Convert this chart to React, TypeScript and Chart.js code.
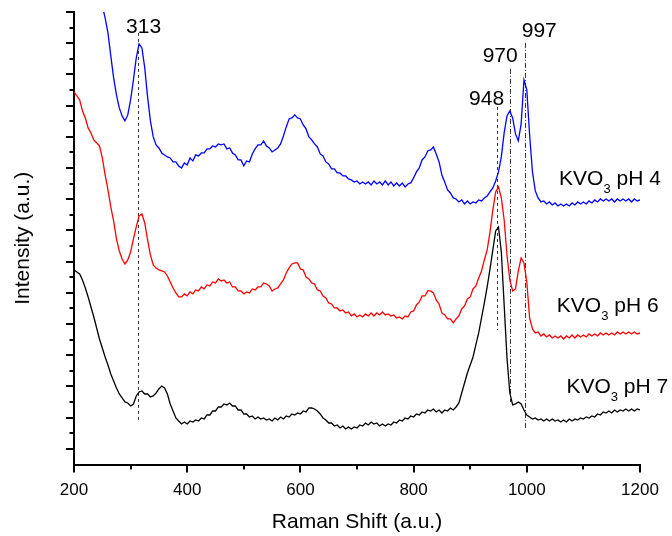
import React, { useEffect, useRef } from 'react';
import { Chart, registerables } from 'chart.js';

Chart.register(...registerables);

const FONT = '"Liberation Sans", Arial, Helvetica, sans-serif';

// Raman shift sampling (a.u.)
const ramanShift = [
  200, 205, 210, 215, 220, 225, 230, 235, 240, 245,
  250, 255, 260, 265, 270, 275, 280, 285, 290, 295,
  300, 305, 310, 315, 320, 325, 330, 335, 340, 345,
  350, 355, 360, 365, 370, 375, 380, 385, 390, 395,
  400, 405, 410, 415, 420, 425, 430, 435, 440, 445,
  450, 455, 460, 465, 470, 475, 480, 485, 490, 495,
  500, 505, 510, 515, 520, 525, 530, 535, 540, 545,
  550, 555, 560, 565, 570, 575, 580, 585, 590, 595,
  600, 605, 610, 615, 620, 625, 630, 635, 640, 645,
  650, 655, 660, 665, 670, 675, 680, 685, 690, 695,
  700, 705, 710, 715, 720, 725, 730, 735, 740, 745,
  750, 755, 760, 765, 770, 775, 780, 785, 790, 795,
  800, 805, 810, 815, 820, 825, 830, 835, 840, 845,
  850, 855, 860, 865, 870, 875, 880, 885, 890, 895,
  900, 905, 910, 915, 920, 925, 930, 935, 940, 945,
  950, 955, 960, 965, 970, 975, 980, 985, 990, 995,
  1000, 1005, 1010, 1015, 1020, 1025, 1030, 1035, 1040, 1045,
  1050, 1055, 1060, 1065, 1070, 1075, 1080, 1085, 1090, 1095,
  1100, 1105, 1110, 1115, 1120, 1125, 1130, 1135, 1140, 1145,
  1150, 1155, 1160, 1165, 1170, 1175, 1180, 1185, 1190, 1195,
  1200,
];

// KVO3 pH 4 (blue)
const intensityPH4 = [
  6045, 5845, 5695, 5545, 5395, 5245, 5095, 4945, 4805, 4675,
  4585, 4465, 4315, 4085, 3865, 3695, 3565, 3485, 3435, 3495,
  3645, 3845, 4065, 4205, 4165, 3965, 3675, 3435, 3275, 3195,
  3165, 3115, 3095, 3075, 3065, 3025, 3025, 2985, 2965, 3015,
  2995, 3065, 3035, 3095, 3085, 3115, 3115, 3155, 3155, 3185,
  3175, 3205, 3195, 3205, 3155, 3165, 3115, 3095, 3045, 3045,
  2985, 3035, 3025, 3105, 3155, 3195, 3195, 3235, 3185, 3165,
  3125, 3145, 3165, 3205, 3285, 3375, 3455, 3465, 3495, 3465,
  3455, 3395, 3355, 3275, 3245, 3205, 3175, 3105, 3085, 3025,
  3005, 2955, 2955, 2915, 2915, 2885, 2885, 2855, 2845, 2825,
  2835, 2805, 2825, 2805, 2825, 2795, 2835, 2805, 2825, 2795,
  2835, 2795, 2825, 2785, 2815, 2785, 2815, 2775, 2805, 2815,
  2865, 2925, 2965, 3045, 3075, 3135, 3145, 3175, 3105, 3025,
  2895, 2825, 2745, 2715, 2665, 2655, 2625, 2645, 2605, 2635,
  2605, 2625, 2615, 2645, 2635, 2665, 2685, 2725, 2765, 2835,
  2925, 3075, 3315, 3485, 3535, 3465, 3305, 3235, 3405, 3845,
  3745, 3295, 2925, 2735, 2665, 2625, 2635, 2605, 2625, 2595,
  2615, 2585, 2605, 2585, 2605, 2585, 2615, 2595, 2625, 2605,
  2625, 2605, 2635, 2615, 2645, 2625, 2655, 2635, 2655, 2635,
  2655, 2625, 2655, 2635, 2655, 2635, 2655, 2625, 2655, 2635,
  2645,
];

// KVO3 pH 6 (red)
const intensityPH6 = [
  3725, 3685, 3645, 3535, 3465, 3365, 3315, 3245, 3215, 3185,
  3065, 2895, 2745, 2575, 2435, 2255, 2135, 2055, 2005, 2045,
  2125, 2255, 2375, 2485, 2505, 2415, 2245, 2095, 1995, 1965,
  1945, 1935, 1925, 1885, 1825, 1765, 1715, 1675, 1675, 1705,
  1685, 1725, 1705, 1745, 1735, 1775, 1755, 1795, 1785, 1825,
  1815, 1855, 1835, 1845, 1815, 1825, 1775, 1775, 1735, 1735,
  1705, 1725, 1715, 1755, 1745, 1775, 1775, 1815, 1805, 1785,
  1735, 1755, 1765, 1805, 1845, 1915, 1965, 2005, 2015, 2015,
  1955, 1945, 1875, 1855, 1815, 1805, 1745, 1735, 1685, 1665,
  1615, 1605, 1565, 1565, 1535, 1545, 1515, 1525, 1485, 1505,
  1475, 1495, 1475, 1505, 1485, 1515, 1485, 1515, 1495, 1525,
  1495, 1505, 1485, 1495, 1465, 1475, 1455, 1485, 1475, 1525,
  1535, 1595, 1625, 1685, 1685, 1735, 1735, 1715, 1645, 1605,
  1515, 1495, 1455, 1455, 1415, 1455, 1485, 1555, 1585, 1655,
  1675, 1755, 1785, 1865, 1935, 2045, 2145, 2325, 2545, 2725,
  2775, 2665, 2445, 2095, 1845, 1735, 1755, 1935, 2065, 2015,
  1825, 1465, 1355, 1315, 1325, 1285, 1305, 1275, 1295, 1265,
  1285, 1265, 1285, 1255, 1285, 1265, 1295, 1265, 1295, 1275,
  1295, 1275, 1305, 1285, 1305, 1285, 1315, 1295, 1315, 1295,
  1315, 1295, 1325, 1305, 1325, 1305, 1325, 1305, 1325, 1305,
  1315,
];

// KVO3 pH 7 (black)
const intensityPH7 = [
  1945, 1925, 1905, 1845, 1765, 1675, 1575, 1475, 1365, 1255,
  1165, 1075, 995, 905, 835, 765, 705, 665, 625, 615,
  585, 605, 685, 725, 735, 705, 705, 675, 685, 715,
  755, 785, 765, 705, 605, 535, 465, 435, 405, 425,
  405, 435, 425, 445, 435, 465, 455, 495, 495, 535,
  535, 575, 575, 605, 595, 615, 585, 585, 545, 545,
  505, 505, 475, 485, 455, 475, 455, 465, 445, 455,
  435, 465, 445, 475, 455, 485, 475, 505, 495, 515,
  505, 535, 525, 565, 565, 555, 535, 505, 465, 445,
  415, 415, 385, 395, 365, 385, 355, 375, 355, 375,
  365, 395, 385, 415, 395, 425, 405, 415, 385, 405,
  385, 405, 395, 425, 415, 445, 435, 465, 455, 485,
  475, 505, 495, 525, 515, 545, 535, 555, 525, 545,
  515, 545, 535, 565, 545, 575, 615, 715, 815, 915,
  995, 1075, 1195, 1315, 1465, 1615, 1775, 1955, 2145, 2335,
  2375, 2125, 1595, 1065, 715, 595, 605, 625, 605, 545,
  495, 475, 455, 465, 445, 455, 435, 455, 435, 455,
  435, 445, 425, 445, 425, 455, 435, 455, 445, 465,
  455, 475, 465, 485, 475, 505, 495, 525, 515, 535,
  515, 545, 525, 545, 535, 555, 535, 555, 535, 555,
  545,
];

const seriesColors = ['#0000ff', '#ff0000', '#000000'];
const seriesPH = ['pH 4', 'pH 6', 'pH 7'];
const seriesLabelX = [1057, 1053, 1070];
const seriesLabelY = [2795, 1528, 712];

// Peak markers
const peakShift = [313, 948, 970, 997];
const peakLineTop = [4315, 3575, 3955, 4215];
const peakLineBottom = [425, 1345, 625, 365];
const peakDash = [[3, 3], [3, 3], [5, 2, 1, 2], [5, 2, 1, 2]];
const peakLabelX = [323, 929, 953, 1022];
const peakLabelY = [4312, 3595, 4028, 4278];

// Axes
const xMin = 200;
const xMax = 1200;
const xLabelStep = 200;
const xTickValues = [200, 300, 400, 500, 600, 700, 800, 900, 1000, 1100, 1200];
const yMax = 4524;
const yTickStep = 156;
const yTickCount = 29;

const decorPlugin = {
  id: 'decor',
  beforeDatasetsDraw(chart: any) {
    const { ctx, scales } = chart;
    const xs = scales.x;
    const ys = scales.y;
    ctx.save();
    ctx.strokeStyle = '#333333';
    ctx.lineWidth = 1;
    peakShift.forEach((v, i) => {
      const px = Math.round(xs.getPixelForValue(v)) + 0.5;
      ctx.setLineDash(peakDash[i]);
      ctx.beginPath();
      ctx.moveTo(px, ys.getPixelForValue(peakLineTop[i]));
      ctx.lineTo(px, ys.getPixelForValue(peakLineBottom[i]));
      ctx.stroke();
    });
    ctx.restore();
  },
  afterDraw(chart: any) {
    const { ctx, scales, chartArea } = chart;
    const xs = scales.x;
    const ys = scales.y;
    ctx.save();
    ctx.strokeStyle = '#000';
    ctx.lineWidth = 2;
    ctx.setLineDash([]);
    for (let k = 1; k <= yTickCount; k++) {
      const py = Math.round(ys.getPixelForValue(k * yTickStep));
      const len = k % 2 === 1 ? 8 : 4.5;
      ctx.beginPath();
      ctx.moveTo(chartArea.left, py);
      ctx.lineTo(chartArea.left - len, py);
      ctx.stroke();
    }
    xTickValues.forEach((v) => {
      const px = Math.round(xs.getPixelForValue(v));
      const len = (v - xMin) % xLabelStep === 0 ? 8 : 5;
      ctx.beginPath();
      ctx.moveTo(px, chartArea.bottom);
      ctx.lineTo(px, chartArea.bottom + len);
      ctx.stroke();
    });

    ctx.fillStyle = '#000';
    ctx.textBaseline = 'alphabetic';
    ctx.textAlign = 'center';
    ctx.font = `21px ${FONT}`;
    peakShift.forEach((v, i) => {
      ctx.fillText(String(v), xs.getPixelForValue(peakLabelX[i]), ys.getPixelForValue(peakLabelY[i]));
    });

    ctx.textAlign = 'left';
    seriesPH.forEach((ph, i) => {
      let px = xs.getPixelForValue(seriesLabelX[i]);
      const py = ys.getPixelForValue(seriesLabelY[i]);
      ctx.font = `21px ${FONT}`;
      ctx.fillText('KVO', px, py);
      px += ctx.measureText('KVO').width;
      ctx.font = `13px ${FONT}`;
      ctx.fillText('3', px, py + 8);
      px += ctx.measureText('3').width;
      ctx.font = `21px ${FONT}`;
      ctx.fillText(' ' + ph, px, py);
    });
    ctx.restore();
  },
};

export default function App() {
  const canvasRef = useRef<HTMLCanvasElement>(null);

  useEffect(() => {
    const canvas = canvasRef.current;
    if (!canvas) return;
    const series = [intensityPH4, intensityPH6, intensityPH7];
    const chart = new Chart(canvas, {
      type: 'line',
      data: {
        datasets: series.map((vals, i) => ({
          label: 'KVO3 ' + seriesPH[i],
          data: ramanShift.map((x, j) => ({ x, y: vals[j] })),
          borderColor: seriesColors[i],
          borderWidth: 1.3,
          pointRadius: 0,
          fill: false,
          tension: 0,
        })),
      },
      options: {
        animation: false,
        responsive: false,
        events: [],
        layout: { padding: { left: 0, top: 12, right: 32, bottom: 0 } },
        plugins: { legend: { display: false }, tooltip: { enabled: false } },
        scales: {
          x: {
            type: 'linear',
            min: xMin,
            max: xMax,
            grid: { display: false, drawTicks: false },
            border: { display: true, color: '#000', width: 2 },
            ticks: {
              stepSize: xLabelStep,
              color: '#000',
              font: { size: 17, family: FONT },
              padding: 16,
              maxRotation: 0,
              autoSkip: false,
              callback: (v: any) => String(v),
            },
            title: {
              display: true,
              text: 'Raman Shift (a.u.)',
              color: '#000',
              font: { size: 21, family: FONT },
              padding: { top: 0, bottom: 1 },
            },
            afterFit: (s: any) => {
              s.height = 71.5;
              s.paddingLeft = 0;
              s.paddingRight = 0;
            },
          },
          y: {
            type: 'linear',
            min: 0,
            max: yMax,
            grid: { display: false, drawTicks: false },
            border: { display: true, color: '#000', width: 2 },
            ticks: { display: false, stepSize: yTickStep },
            title: {
              display: true,
              text: 'Intensity (a.u.)',
              color: '#000',
              font: { size: 21, family: FONT },
              padding: { top: 11, bottom: 0 },
            },
            afterFit: (s: any) => {
              s.width = 74;
              s.paddingTop = 0;
              s.paddingBottom = 0;
            },
          },
        },
      },
      plugins: [decorPlugin],
    } as any);
    return () => chart.destroy();
  }, []);

  return (
    <canvas
      ref={canvasRef}
      width={672}
      height={536}
      style={{ position: 'fixed', left: 0, top: 0, display: 'block' }}
    />
  );
}
